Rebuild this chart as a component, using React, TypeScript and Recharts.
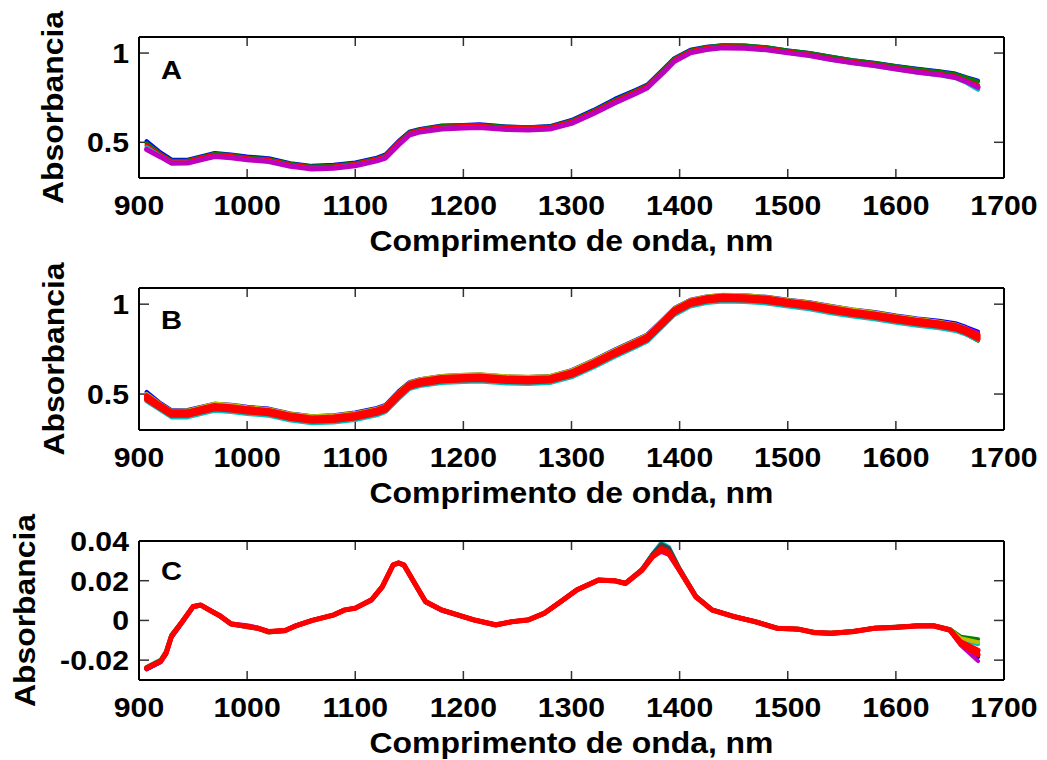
import React from 'react';
import { LineChart, Line, XAxis, YAxis, Label, ReferenceLine } from 'recharts';

// ---------- labels & ticks ----------
const xTicks = [900, 1000, 1100, 1200, 1300, 1400, 1500, 1600, 1700];
const absTicks = [0.5, 1];
const derivTicks = [-0.02, 0, 0.02, 0.04];
const xLabel = 'Comprimento de onda, nm';
const yLabel = 'Absorbancia';
const panelLetters = ['A', 'B', 'C'];

// ---------- wavelengths ----------
const wlA = [907, 920, 930, 945, 960, 970, 985, 1000, 1020, 1040, 1060, 1080, 1100, 1120, 1128, 1140, 1150, 1160, 1180, 1200, 1215, 1240, 1260, 1280, 1300, 1320, 1340, 1360, 1370, 1385, 1395, 1410, 1425, 1440, 1460, 1480, 1500, 1520, 1540, 1560, 1580, 1600, 1620, 1640, 1655, 1665, 1676];
const wlC = [907, 920, 925, 930, 940, 950, 957, 965, 975, 985, 1000, 1010, 1020, 1035, 1045, 1060, 1080, 1090, 1100, 1115, 1125, 1135, 1140, 1145, 1155, 1165, 1180, 1195, 1210, 1230, 1245, 1260, 1275, 1290, 1305, 1325, 1340, 1350, 1365, 1375, 1383, 1390, 1400, 1415, 1430, 1450, 1470, 1490, 1510, 1525, 1540, 1560, 1580, 1600, 1620, 1635, 1650, 1660, 1676];

// ---------- panel A (raw spectra) ----------
const aBlue = [0.507, 0.443, 0.404, 0.402, 0.425, 0.440, 0.432, 0.420, 0.411, 0.383, 0.368, 0.374, 0.387, 0.414, 0.432, 0.507, 0.559, 0.575, 0.594, 0.597, 0.601, 0.589, 0.585, 0.591, 0.625, 0.680, 0.743, 0.796, 0.823, 0.911, 0.971, 1.019, 1.036, 1.044, 1.042, 1.032, 1.015, 1.000, 0.979, 0.960, 0.946, 0.927, 0.912, 0.898, 0.885, 0.865, 0.845];
const aGreen = [0.496, 0.435, 0.397, 0.398, 0.421, 0.436, 0.429, 0.415, 0.406, 0.380, 0.364, 0.370, 0.383, 0.410, 0.427, 0.502, 0.555, 0.572, 0.591, 0.595, 0.597, 0.587, 0.584, 0.588, 0.621, 0.675, 0.737, 0.791, 0.819, 0.908, 0.968, 1.015, 1.034, 1.044, 1.042, 1.033, 1.015, 1.000, 0.979, 0.960, 0.945, 0.926, 0.910, 0.896, 0.882, 0.862, 0.840];
const aRed = [0.484, 0.430, 0.393, 0.393, 0.416, 0.430, 0.423, 0.411, 0.401, 0.375, 0.360, 0.365, 0.379, 0.405, 0.422, 0.497, 0.551, 0.568, 0.586, 0.591, 0.593, 0.582, 0.579, 0.584, 0.615, 0.669, 0.730, 0.785, 0.813, 0.902, 0.962, 1.010, 1.029, 1.038, 1.035, 1.026, 1.008, 0.992, 0.970, 0.951, 0.936, 0.916, 0.898, 0.884, 0.870, 0.846, 0.820];
const aCyan = [0.472, 0.422, 0.385, 0.385, 0.407, 0.421, 0.415, 0.404, 0.394, 0.368, 0.352, 0.357, 0.371, 0.397, 0.414, 0.487, 0.542, 0.559, 0.576, 0.581, 0.584, 0.573, 0.570, 0.575, 0.606, 0.660, 0.720, 0.775, 0.804, 0.891, 0.953, 1.002, 1.021, 1.030, 1.028, 1.019, 1.001, 0.985, 0.963, 0.944, 0.928, 0.909, 0.891, 0.876, 0.860, 0.834, 0.794];
const aMagenta = [0.460, 0.418, 0.383, 0.384, 0.406, 0.420, 0.413, 0.402, 0.392, 0.366, 0.350, 0.355, 0.369, 0.396, 0.412, 0.485, 0.540, 0.558, 0.575, 0.580, 0.583, 0.572, 0.569, 0.574, 0.606, 0.660, 0.720, 0.775, 0.804, 0.891, 0.953, 1.001, 1.020, 1.029, 1.027, 1.018, 1.001, 0.986, 0.964, 0.945, 0.930, 0.911, 0.893, 0.879, 0.863, 0.840, 0.808];

// ---------- panel B (pre-treated spectra) ----------
const bBlue = [0.512, 0.449, 0.410, 0.411, 0.433, 0.446, 0.440, 0.429, 0.419, 0.392, 0.376, 0.382, 0.397, 0.423, 0.440, 0.515, 0.566, 0.583, 0.601, 0.606, 0.609, 0.598, 0.595, 0.600, 0.633, 0.688, 0.748, 0.803, 0.831, 0.918, 0.978, 1.025, 1.043, 1.051, 1.049, 1.041, 1.025, 1.011, 0.990, 0.971, 0.956, 0.937, 0.921, 0.908, 0.894, 0.873, 0.848];
const bGreen = [0.465, 0.414, 0.376, 0.377, 0.400, 0.413, 0.406, 0.395, 0.385, 0.360, 0.345, 0.349, 0.362, 0.388, 0.404, 0.477, 0.532, 0.550, 0.568, 0.573, 0.576, 0.565, 0.562, 0.567, 0.598, 0.652, 0.713, 0.768, 0.797, 0.885, 0.946, 0.994, 1.013, 1.022, 1.019, 1.011, 0.994, 0.979, 0.957, 0.938, 0.923, 0.904, 0.887, 0.872, 0.856, 0.833, 0.796];
const bCyan = [0.459, 0.409, 0.370, 0.370, 0.393, 0.407, 0.400, 0.389, 0.379, 0.353, 0.338, 0.342, 0.356, 0.382, 0.399, 0.472, 0.527, 0.544, 0.562, 0.567, 0.570, 0.559, 0.556, 0.561, 0.593, 0.647, 0.707, 0.762, 0.791, 0.879, 0.939, 0.987, 1.006, 1.015, 1.012, 1.004, 0.987, 0.972, 0.950, 0.931, 0.916, 0.897, 0.880, 0.866, 0.851, 0.830, 0.800];
const bYellow = [0.501, 0.444, 0.407, 0.408, 0.431, 0.447, 0.439, 0.427, 0.416, 0.390, 0.376, 0.381, 0.394, 0.419, 0.436, 0.509, 0.563, 0.582, 0.601, 0.607, 0.610, 0.599, 0.596, 0.601, 0.632, 0.686, 0.745, 0.800, 0.829, 0.917, 0.977, 1.023, 1.043, 1.053, 1.050, 1.040, 1.023, 1.009, 0.989, 0.970, 0.954, 0.934, 0.917, 0.903, 0.887, 0.866, 0.835];
const bMagenta = [0.486, 0.435, 0.398, 0.398, 0.420, 0.434, 0.427, 0.416, 0.406, 0.380, 0.364, 0.369, 0.383, 0.409, 0.426, 0.500, 0.554, 0.571, 0.589, 0.594, 0.597, 0.586, 0.583, 0.588, 0.620, 0.674, 0.734, 0.789, 0.818, 0.906, 0.966, 1.014, 1.033, 1.042, 1.039, 1.031, 1.014, 0.999, 0.978, 0.959, 0.944, 0.926, 0.910, 0.897, 0.884, 0.865, 0.840];
const bRed1 = [0.491, 0.438, 0.401, 0.401, 0.423, 0.437, 0.430, 0.419, 0.409, 0.383, 0.367, 0.372, 0.386, 0.412, 0.429, 0.503, 0.557, 0.574, 0.592, 0.597, 0.600, 0.589, 0.586, 0.591, 0.623, 0.677, 0.737, 0.792, 0.821, 0.909, 0.969, 1.017, 1.036, 1.045, 1.042, 1.034, 1.017, 1.002, 0.980, 0.961, 0.946, 0.927, 0.910, 0.896, 0.881, 0.859, 0.828];
const bRed2 = [0.479, 0.429, 0.392, 0.392, 0.414, 0.428, 0.421, 0.410, 0.400, 0.374, 0.358, 0.363, 0.377, 0.403, 0.420, 0.494, 0.548, 0.565, 0.583, 0.588, 0.591, 0.580, 0.577, 0.582, 0.614, 0.668, 0.728, 0.783, 0.812, 0.900, 0.960, 1.008, 1.027, 1.036, 1.033, 1.025, 1.008, 0.993, 0.971, 0.952, 0.937, 0.918, 0.901, 0.887, 0.872, 0.850, 0.818];
const bRed3 = [0.469, 0.419, 0.382, 0.382, 0.404, 0.418, 0.411, 0.400, 0.390, 0.364, 0.348, 0.353, 0.367, 0.393, 0.410, 0.484, 0.538, 0.555, 0.573, 0.578, 0.581, 0.570, 0.567, 0.572, 0.604, 0.658, 0.718, 0.773, 0.802, 0.890, 0.950, 0.998, 1.017, 1.026, 1.023, 1.015, 0.998, 0.983, 0.961, 0.942, 0.927, 0.908, 0.891, 0.877, 0.862, 0.840, 0.807];

// ---------- panel C (derivative spectra) ----------
const cBlue = [-0.0247, -0.0210, -0.0170, -0.0086, -0.0012, 0.0066, 0.0076, 0.0052, 0.0021, -0.0018, -0.0031, -0.0040, -0.0057, -0.0050, -0.0025, 0.0001, 0.0027, 0.0052, 0.0061, 0.0101, 0.0166, 0.0278, 0.0289, 0.0278, 0.0183, 0.0092, 0.0050, 0.0026, 0.0001, -0.0024, -0.0007, 0.0002, 0.0035, 0.0092, 0.0152, 0.0203, 0.0199, 0.0188, 0.0256, 0.0334, 0.0378, 0.0360, 0.0257, 0.0121, 0.0052, 0.0018, -0.0008, -0.0040, -0.0045, -0.0062, -0.0065, -0.0057, -0.0038, -0.0033, -0.0026, -0.0026, -0.0049, -0.0120, -0.0185];
const cGreen = [-0.0235, -0.0198, -0.0155, -0.0072, -0.0003, 0.0071, 0.0077, 0.0052, 0.0022, -0.0019, -0.0032, -0.0041, -0.0061, -0.0053, -0.0028, -0.0001, 0.0029, 0.0053, 0.0063, 0.0105, 0.0172, 0.0281, 0.0288, 0.0279, 0.0188, 0.0096, 0.0054, 0.0029, 0.0004, -0.0021, -0.0005, 0.0004, 0.0038, 0.0096, 0.0155, 0.0205, 0.0201, 0.0189, 0.0255, 0.0331, 0.0370, 0.0352, 0.0256, 0.0122, 0.0054, 0.0021, -0.0004, -0.0037, -0.0042, -0.0060, -0.0062, -0.0054, -0.0038, -0.0032, -0.0025, -0.0025, -0.0044, -0.0082, -0.0095];
const cCyan = [-0.0241, -0.0207, -0.0166, -0.0081, -0.0007, 0.0069, 0.0077, 0.0053, 0.0022, -0.0018, -0.0035, -0.0042, -0.0058, -0.0052, -0.0028, 0.0000, 0.0028, 0.0052, 0.0061, 0.0103, 0.0169, 0.0280, 0.0291, 0.0281, 0.0186, 0.0094, 0.0051, 0.0026, 0.0002, -0.0023, -0.0007, 0.0002, 0.0036, 0.0094, 0.0153, 0.0204, 0.0200, 0.0188, 0.0257, 0.0336, 0.0392, 0.0370, 0.0262, 0.0124, 0.0055, 0.0021, -0.0005, -0.0038, -0.0043, -0.0060, -0.0063, -0.0055, -0.0037, -0.0033, -0.0026, -0.0026, -0.0045, -0.0095, -0.0120];
const cMagenta = [-0.0240, -0.0205, -0.0164, -0.0079, -0.0005, 0.0070, 0.0079, 0.0055, 0.0025, -0.0015, -0.0024, -0.0036, -0.0055, -0.0050, -0.0026, 0.0001, 0.0028, 0.0053, 0.0062, 0.0104, 0.0170, 0.0279, 0.0289, 0.0279, 0.0187, 0.0095, 0.0053, 0.0028, 0.0003, -0.0022, -0.0006, 0.0003, 0.0037, 0.0095, 0.0154, 0.0203, 0.0198, 0.0185, 0.0250, 0.0322, 0.0345, 0.0330, 0.0248, 0.0118, 0.0053, 0.0020, -0.0006, -0.0039, -0.0045, -0.0062, -0.0068, -0.0057, -0.0040, -0.0035, -0.0028, -0.0029, -0.0052, -0.0125, -0.0205];
const cYellow = [-0.0240, -0.0206, -0.0165, -0.0080, -0.0006, 0.0070, 0.0078, 0.0053, 0.0023, -0.0017, -0.0030, -0.0038, -0.0054, -0.0050, -0.0028, -0.0001, 0.0027, 0.0052, 0.0061, 0.0103, 0.0169, 0.0279, 0.0289, 0.0279, 0.0186, 0.0094, 0.0052, 0.0027, 0.0002, -0.0023, -0.0007, 0.0002, 0.0036, 0.0094, 0.0153, 0.0203, 0.0199, 0.0186, 0.0253, 0.0329, 0.0368, 0.0350, 0.0253, 0.0119, 0.0052, 0.0019, -0.0007, -0.0040, -0.0045, -0.0061, -0.0063, -0.0055, -0.0039, -0.0034, -0.0027, -0.0027, -0.0046, -0.0090, -0.0110];
const cGray = [-0.0241, -0.0207, -0.0166, -0.0081, -0.0006, 0.0070, 0.0078, 0.0053, 0.0023, -0.0017, -0.0030, -0.0039, -0.0056, -0.0051, -0.0027, 0.0000, 0.0028, 0.0053, 0.0062, 0.0104, 0.0170, 0.0280, 0.0290, 0.0280, 0.0187, 0.0095, 0.0053, 0.0028, 0.0003, -0.0022, -0.0006, 0.0003, 0.0037, 0.0095, 0.0154, 0.0204, 0.0200, 0.0187, 0.0256, 0.0334, 0.0383, 0.0365, 0.0260, 0.0122, 0.0054, 0.0020, -0.0006, -0.0039, -0.0044, -0.0061, -0.0064, -0.0056, -0.0039, -0.0034, -0.0027, -0.0027, -0.0048, -0.0112, -0.0160];
const cRed1 = [-0.0240, -0.0206, -0.0165, -0.0080, -0.0006, 0.0070, 0.0078, 0.0053, 0.0023, -0.0017, -0.0030, -0.0039, -0.0056, -0.0051, -0.0027, 0.0000, 0.0028, 0.0053, 0.0062, 0.0104, 0.0170, 0.0280, 0.0290, 0.0280, 0.0187, 0.0095, 0.0053, 0.0028, 0.0003, -0.0022, -0.0006, 0.0003, 0.0037, 0.0095, 0.0154, 0.0204, 0.0200, 0.0187, 0.0254, 0.0324, 0.0362, 0.0345, 0.0254, 0.0120, 0.0053, 0.0020, -0.0006, -0.0039, -0.0044, -0.0061, -0.0064, -0.0056, -0.0039, -0.0034, -0.0027, -0.0027, -0.0047, -0.0108, -0.0150];
const cRed2 = [-0.0242, -0.0207, -0.0166, -0.0081, -0.0007, 0.0069, 0.0077, 0.0052, 0.0022, -0.0018, -0.0031, -0.0040, -0.0057, -0.0052, -0.0028, -0.0001, 0.0027, 0.0052, 0.0061, 0.0103, 0.0169, 0.0279, 0.0289, 0.0279, 0.0186, 0.0094, 0.0052, 0.0027, 0.0002, -0.0023, -0.0007, 0.0002, 0.0036, 0.0094, 0.0153, 0.0203, 0.0199, 0.0186, 0.0251, 0.0320, 0.0352, 0.0338, 0.0250, 0.0118, 0.0052, 0.0019, -0.0007, -0.0040, -0.0045, -0.0062, -0.0065, -0.0057, -0.0040, -0.0035, -0.0028, -0.0028, -0.0049, -0.0118, -0.0172];

// ---------- styling ----------
const FONT = '"Liberation Sans", Arial, Helvetica, sans-serif';
const COLORS = {
  blue: '#0000FF',
  green: '#008000',
  red: '#FF0000',
  cyan: '#00BFBF',
  magenta: '#BF00BF',
  yellow: '#BFBF00',
  gray: '#404040',
};

type Series = { key: string; color: string; values: number[]; width: number };

const seriesA: Series[] = [
  { key: 'blue', color: COLORS.blue, values: aBlue, width: 4 },
  { key: 'green', color: COLORS.green, values: aGreen, width: 4 },
  { key: 'red', color: COLORS.red, values: aRed, width: 4 },
  { key: 'cyan', color: COLORS.cyan, values: aCyan, width: 4 },
  { key: 'magenta', color: COLORS.magenta, values: aMagenta, width: 5 },
];
const seriesB: Series[] = [
  { key: 'blue', color: COLORS.blue, values: bBlue, width: 4 },
  { key: 'yellow', color: COLORS.yellow, values: bYellow, width: 4 },
  { key: 'green', color: COLORS.green, values: bGreen, width: 4 },
  { key: 'cyan', color: COLORS.cyan, values: bCyan, width: 4 },
  { key: 'magenta', color: COLORS.magenta, values: bMagenta, width: 4 },
  { key: 'red1', color: COLORS.red, values: bRed1, width: 5 },
  { key: 'red2', color: COLORS.red, values: bRed2, width: 5 },
  { key: 'red3', color: COLORS.red, values: bRed3, width: 5 },
];
const seriesC: Series[] = [
  { key: 'blue', color: COLORS.blue, values: cBlue, width: 4 },
  { key: 'green', color: COLORS.green, values: cGreen, width: 4 },
  { key: 'cyan', color: COLORS.cyan, values: cCyan, width: 4 },
  { key: 'magenta', color: COLORS.magenta, values: cMagenta, width: 4 },
  { key: 'yellow', color: COLORS.yellow, values: cYellow, width: 4 },
  { key: 'gray', color: COLORS.gray, values: cGray, width: 4 },
  { key: 'red1', color: COLORS.red, values: cRed1, width: 5 },
  { key: 'red2', color: COLORS.red, values: cRed2, width: 5 },
];

function buildRows(wl: number[], series: Series[]) {
  return wl.map((w, i) => {
    const row: Record<string, number> = { w };
    series.forEach((s) => {
      row[s.key] = s.values[i];
    });
    return row;
  });
}

const XTick = (props: any) => {
  const { x, y, payload } = props;
  return (
    <text
      transform={`translate(${x},${y}) scale(1.12,1)`}
      textAnchor="middle"
      fontFamily={FONT}
      fontWeight="bold"
      fontSize={27}
      fill="#000"
    >
      {String(payload.value)}
    </text>
  );
};

const YTick = (props: any) => {
  const { x, y, payload } = props;
  return (
    <text
      transform={`translate(${x},${y + 10}) scale(1.12,1)`}
      textAnchor="end"
      fontFamily={FONT}
      fontWeight="bold"
      fontSize={27}
      fill="#000"
    >
      {String(payload.value)}
    </text>
  );
};

const EmptyTick = () => <g />;

const AXIS_LINE = { stroke: '#000', strokeWidth: 2 };
const TICK_STROKE = '#333';
const X_DOMAIN: [number, number] = [900, 1700];

type PanelProps = {
  top: number;
  height: number;
  marginTop: number;
  axisHeight: number;
  plotHeight: number;
  rows: Record<string, number>[];
  series: Series[];
  yDomain: [number, number];
  yTicks: number[];
  letter: string;
  letterDy: number;
  yLabelX: number;
};

const PLOT_WIDTH = 865;

function Panel(p: PanelProps) {
  const [y0, y1] = p.yDomain;
  // inward tick lengths expressed in data units (9 px vertical, 10 px horizontal)
  const yLen = ((y1 - y0) * 9) / p.plotHeight;
  const xLen = ((X_DOMAIN[1] - X_DOMAIN[0]) * 10) / PLOT_WIDTH;

  const xLabelContent = (props: any) => {
    const vb = props.viewBox || {};
    const cx = vb.x + vb.width / 2;
    const cy = vb.y + 73;
    return (
      <text
        transform={`translate(${cx},${cy}) scale(1.1,1)`}
        textAnchor="middle"
        fontFamily={FONT}
        fontWeight="bold"
        fontSize={29}
        fill="#000"
      >
        {xLabel}
      </text>
    );
  };
  const letterContent = (props: any) => {
    const vb = props.viewBox || {};
    return (
      <text
        transform={`translate(${vb.x + 22},${vb.y + vb.height + p.letterDy}) scale(1.12,1)`}
        textAnchor="start"
        fontFamily={FONT}
        fontWeight="bold"
        fontSize={26}
        fill="#000"
      >
        {p.letter}
      </text>
    );
  };
  const yLabelContent = (props: any) => {
    const vb = props.viewBox || {};
    const cy = vb.y + vb.height / 2;
    return (
      <text
        transform={`translate(${p.yLabelX},${cy}) rotate(-90) scale(1.1,1)`}
        textAnchor="middle"
        fontFamily={FONT}
        fontWeight="bold"
        fontSize={29}
        fill="#000"
      >
        {yLabel}
      </text>
    );
  };

  const tickSegs: { key: string; seg: [{ x: number; y: number }, { x: number; y: number }] }[] = [];
  xTicks.forEach((t) => {
    tickSegs.push({ key: `xb${t}`, seg: [{ x: t, y: y0 }, { x: t, y: y0 + yLen }] });
    tickSegs.push({ key: `xt${t}`, seg: [{ x: t, y: y1 }, { x: t, y: y1 - yLen }] });
  });
  p.yTicks.forEach((t) => {
    tickSegs.push({ key: `yl${t}`, seg: [{ x: X_DOMAIN[0], y: t }, { x: X_DOMAIN[0] + xLen, y: t }] });
    tickSegs.push({ key: `yr${t}`, seg: [{ x: X_DOMAIN[1], y: t }, { x: X_DOMAIN[1] - xLen, y: t }] });
  });

  return (
    <div style={{ position: 'absolute', left: 0, top: p.top, width: 1047, height: p.height }}>
      <LineChart
        width={1047}
        height={p.height}
        data={p.rows}
        margin={{ top: p.marginTop - 1, right: 42, bottom: 0, left: 39 }}
      >
        <XAxis
          xAxisId="b"
          dataKey="w"
          type="number"
          orientation="bottom"
          domain={X_DOMAIN}
          ticks={xTicks}
          interval={0}
          allowDataOverflow
          height={p.axisHeight}
          tickSize={-9}
          tickMargin={46}
          tick={XTick}
          axisLine={AXIS_LINE}
          tickLine={false}
        >
          <Label content={xLabelContent} />
        </XAxis>
        <XAxis
          xAxisId="t"
          dataKey="w"
          type="number"
          orientation="top"
          domain={X_DOMAIN}
          ticks={xTicks}
          interval={0}
          allowDataOverflow
          height={1}
          tickSize={0}
          tick={EmptyTick}
          axisLine={AXIS_LINE}
          tickLine={false}
        >
          <Label content={letterContent} />
        </XAxis>
        <YAxis
          yAxisId="l"
          type="number"
          orientation="left"
          domain={p.yDomain}
          ticks={p.yTicks}
          interval={0}
          allowDataOverflow
          width={100}
          tickSize={-10}
          tickMargin={20}
          tick={YTick}
          axisLine={AXIS_LINE}
          tickLine={false}
        >
          <Label content={yLabelContent} />
        </YAxis>
        <YAxis
          yAxisId="r"
          type="number"
          orientation="right"
          domain={p.yDomain}
          ticks={p.yTicks}
          interval={0}
          allowDataOverflow
          width={1}
          tickSize={0}
          tick={EmptyTick}
          axisLine={AXIS_LINE}
          tickLine={false}
        />
        {tickSegs.map((t) => (
          <ReferenceLine
            key={t.key}
            xAxisId="b"
            yAxisId="l"
            segment={t.seg}
            stroke={TICK_STROKE}
            strokeWidth={1.5}
            ifOverflow="visible"
          />
        ))}
        {p.series.map((s) => (
          <Line
            key={s.key}
            xAxisId="b"
            yAxisId="l"
            type="linear"
            dataKey={s.key}
            stroke={s.color}
            strokeWidth={s.width}
            strokeLinejoin="round"
            strokeLinecap="round"
            dot={false}
            activeDot={false}
            isAnimationActive={false}
          />
        ))}
      </LineChart>
    </div>
  );
}

const rowsA = buildRows(wlA, seriesA);
const rowsB = buildRows(wlA, seriesB);
const rowsC = buildRows(wlC, seriesC);

export default function App() {
  return (
    <div
      style={{
        position: 'absolute',
        left: 0,
        top: 0,
        width: 1047,
        height: 760,
        background: '#fff',
        overflow: 'hidden',
      }}
    >
      <Panel top={0} height={260} marginTop={37} axisHeight={82} plotHeight={141} rows={rowsA} series={seriesA}
        yDomain={[0.3, 1.09]} yTicks={absTicks} letter={panelLetters[0]} letterDy={42} yLabelX={63} />
      <Panel top={250} height={262} marginTop={38} axisHeight={82} plotHeight={142} rows={rowsB} series={seriesB}
        yDomain={[0.3, 1.09]} yTicks={absTicks} letter={panelLetters[1]} letterDy={41} yLabelX={64} />
      <Panel top={500} height={260} marginTop={41} axisHeight={80} plotHeight={139} rows={rowsC} series={seriesC}
        yDomain={[-0.03, 0.04]} yTicks={derivTicks} letter={panelLetters[2]} letterDy={39} yLabelX={35} />
    </div>
  );
}
